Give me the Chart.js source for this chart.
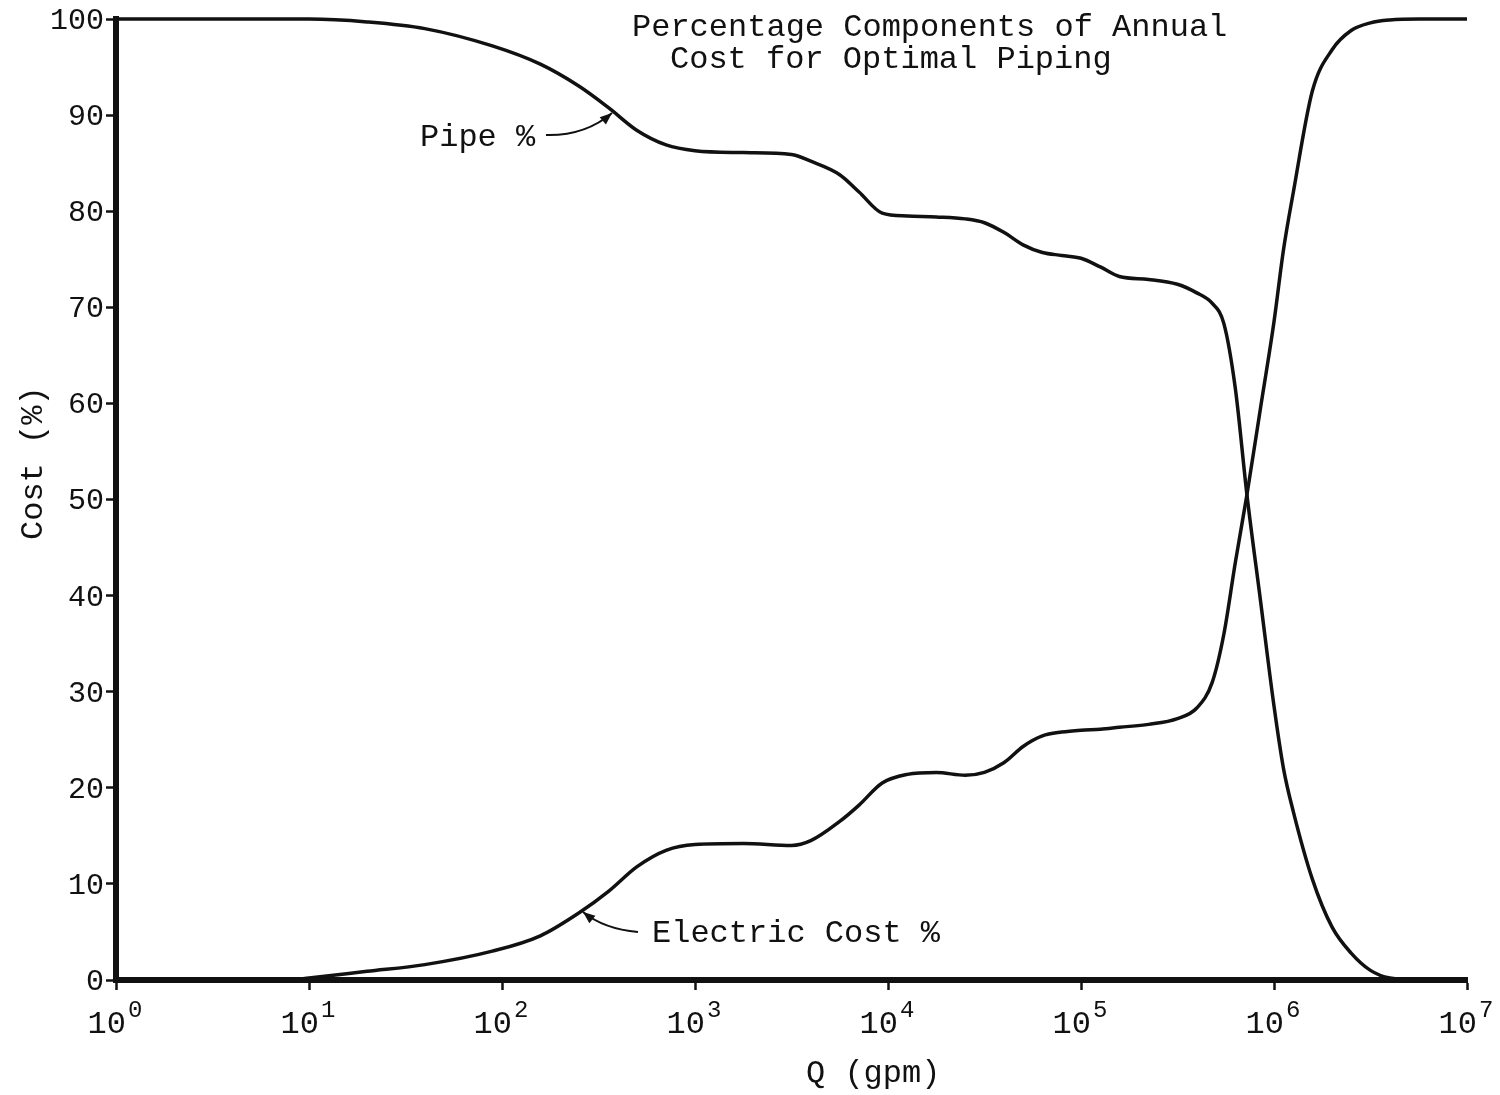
<!DOCTYPE html>
<html>
<head>
<meta charset="utf-8">
<title>Percentage Components of Annual Cost for Optimal Piping</title>
<script src="https://cdn.jsdelivr.net/npm/chart.js@4.4.1/dist/chart.umd.min.js"></script>
<style>
  html, body { margin: 0; padding: 0; background: #fff; }
  #wrap { width: 1500px; height: 1095px; position: relative; }
</style>
</head>
<body>
<div id="wrap"><canvas id="cost-chart"></canvas></div>
<script>
// Flow rate Q (gpm)
const qGpm = [1, 3.16, 7.94, 10, 20, 39.8, 89.1, 158, 251, 355, 501, 708,
    1000, 1780, 3160, 3980, 5620, 7080, 9330, 12600, 17800, 25100, 31600,
    39800, 50100, 63100, 79400, 1e5, 1.26e5, 1.58e5, 2.24e5, 3.16e5, 3.98e5,
    4.79e5, 5.5e5, 6.31e5, 7.24e5, 8.51e5, 1e6, 1.12e6, 1.26e6, 1.58e6,
    2e6, 2.51e6, 3.16e6, 3.98e6, 5.62e6, 1e7];

const pipePct = [100, 100, 100, 100, 99.7, 99.0, 97.2, 95.3, 93.0, 90.8, 88.4, 86.9,
    86.3, 86.1, 85.9, 85.2, 83.8, 82.0, 79.8, 79.5, 79.4, 79.2, 78.8,
    77.8, 76.5, 75.7, 75.4, 75.1, 74.2, 73.2, 72.9, 72.4, 71.5,
    70.4, 68.3, 61.5, 50.5, 39.5, 28.5, 22.0, 17.5, 10.5,
    5.5, 2.8, 1.0, 0.2, 0, 0];

const electricPct = [0, 0, 0, 0.2, 0.9, 1.6, 3.0, 4.6, 7.0, 9.2, 11.8, 13.5,
    14.1, 14.2, 14.0, 14.5, 16.5, 18.2, 20.5, 21.4, 21.6, 21.3, 21.6,
    22.6, 24.3, 25.4, 25.8, 26.0, 26.1, 26.3, 26.6, 27.2, 28.3,
    31.0, 36.0, 43.5, 50.5, 59.5, 68.5, 76.0, 82.0, 92.5,
    96.8, 98.8, 99.6, 99.9, 100, 100];

const xTickPowers = [0, 1, 2, 3, 4, 5, 6, 7];
const yTicks = [0, 10, 20, 30, 40, 50, 60, 70, 80, 90, 100];

const titleLines = ['Percentage Components of Annual', 'Cost for Optimal Piping'];

const TYPE = '"Liberation Mono", "Courier New", monospace';

function toPoints(ys) {
    return qGpm.map((q, i) => ({ x: q, y: ys[i] }));
}

function arrow(ctx, x0, y0, cx, cy, x1, y1) {
    ctx.beginPath();
    ctx.moveTo(x0, y0);
    ctx.quadraticCurveTo(cx, cy, x1, y1);
    ctx.stroke();
    const a = Math.atan2(y1 - cy, x1 - cx);
    const len = 13, spread = 0.38;
    ctx.beginPath();
    ctx.moveTo(x1, y1);
    ctx.lineTo(x1 - len * Math.cos(a - spread), y1 - len * Math.sin(a - spread));
    ctx.lineTo(x1 - len * Math.cos(a + spread), y1 - len * Math.sin(a + spread));
    ctx.closePath();
    ctx.fill();
}

const textPlugin = {
    id: 'typedText',
    afterDraw: (chart) => {
        const { ctx } = chart;
        const xs = chart.scales.x, ys = chart.scales.y;
        ctx.save();
        ctx.fillStyle = '#111';
        ctx.strokeStyle = '#111';

        // y tick labels
        ctx.font = '30px ' + TYPE;
        ctx.textAlign = 'right';
        ctx.textBaseline = 'middle';
        yTicks.forEach(v => {
            ctx.fillText(String(v), 104, ys.getPixelForValue(v) + 2);
        });

        // x tick labels 10^n
        xTickPowers.forEach(p => {
            const px = xs.getPixelForValue(Math.pow(10, p));
            ctx.textBaseline = 'alphabetic';
            ctx.textAlign = 'right';
            ctx.font = '32px ' + TYPE;
            ctx.fillText('10', px + 10, 1033);
            ctx.textAlign = 'left';
            ctx.font = '24px ' + TYPE;
            ctx.fillText(String(p), px + 12, 1017);
        });

        // title
        ctx.textAlign = 'left';
        ctx.textBaseline = 'alphabetic';
        ctx.font = '32px ' + TYPE;
        ctx.fillText(titleLines[0], 632, 36);
        ctx.fillText(titleLines[1], 670, 68);

        // curve labels
        ctx.fillText('Pipe %', 420, 146);
        ctx.fillText('Electric Cost %', 652, 942);

        // axis titles
        ctx.fillText('Q (gpm)', 806, 1082);
        ctx.save();
        ctx.translate(42, 540);
        ctx.rotate(-Math.PI / 2);
        ctx.fillText('Cost (%)', 0, 0);
        ctx.restore();

        // arrows
        ctx.lineWidth = 2;
        arrow(ctx, 546, 135, 585, 136, 612, 113);
        arrow(ctx, 638, 932, 604, 929, 583, 912);

        ctx.restore();
    }
};

const ctx = document.getElementById('cost-chart').getContext('2d');
new Chart(ctx, {
    type: 'line',
    data: {
        datasets: [{
            label: 'Pipe %',
            data: toPoints(pipePct),
            borderColor: '#111',
            borderWidth: 3.5,
            pointRadius: 0,
            cubicInterpolationMode: 'monotone',
            clip: false
        }, {
            label: 'Electric Cost %',
            data: toPoints(electricPct),
            borderColor: '#111',
            borderWidth: 3.5,
            pointRadius: 0,
            cubicInterpolationMode: 'monotone',
            clip: false
        }]
    },
    options: {
        responsive: true,
        maintainAspectRatio: false,
        animation: false,
        events: [],
        layout: { padding: { left: 0, right: 33, top: 19, bottom: 0 } },
        plugins: {
            legend: { display: false },
            tooltip: { enabled: false }
        },
        scales: {
            x: {
                type: 'logarithmic',
                min: 1,
                max: 1e7,
                afterBuildTicks: (scale) => {
                    scale.ticks = xTickPowers.map(p => ({ value: Math.pow(10, p) }));
                },
                afterFit: (scale) => { scale.height = 115; },
                ticks: { display: false },
                grid: {
                    drawOnChartArea: false,
                    drawTicks: true,
                    tickLength: 10,
                    tickWidth: 2.5,
                    tickColor: '#111'
                },
                border: { display: true, width: 6, color: '#111' }
            },
            y: {
                min: 0,
                max: 100,
                afterBuildTicks: (scale) => {
                    scale.ticks = yTicks.map(v => ({ value: v }));
                },
                afterFit: (scale) => { scale.width = 116; },
                ticks: { display: false },
                grid: {
                    drawOnChartArea: false,
                    drawTicks: true,
                    tickLength: 10,
                    tickWidth: 2.5,
                    tickColor: '#111'
                },
                border: { display: true, width: 6, color: '#111' }
            }
        }
    },
    plugins: [textPlugin]
});
</script>
</body>
</html>
